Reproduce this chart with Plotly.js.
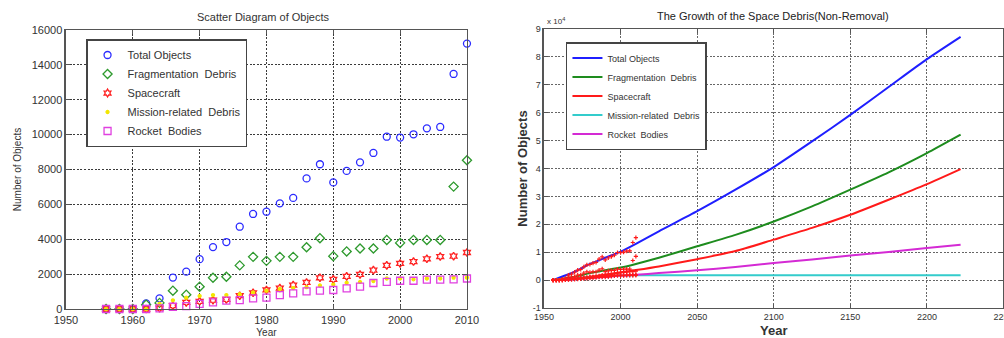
<!DOCTYPE html>
<html><head><meta charset="utf-8">
<script src="https://cdn.plot.ly/plotly-3.0.1.min.js"></script>
<style>html,body{margin:0;padding:0;background:#fff}#chart{width:1004px;height:338px}</style>
</head><body><div id="chart"></div>
<script>
// Historical observations (left chart, also red dots in right chart)
const years = [1956,1958,1960,1962,1964,1966,1968,1970,1972,1974,1976,1978,1980,1982,1984,1986,1988,1990,1992,1994,1996,1998,2000,2002,2004,2006,2008,2010];
const totalObjects = [0,0,0,320,610,1800,2140,2860,3550,3840,4720,5450,5580,6060,6370,7490,8300,7260,7920,8410,8950,9880,9830,10020,10360,10440,13480,15220];
const fragmentation = [0,0,0,250,350,1050,820,1280,1790,1850,2500,2990,2760,2990,2990,3540,4060,3030,3300,3470,3470,3960,3790,3960,3960,3960,7020,8530];
const spacecraft = [0,0,0,0,50,190,380,440,510,550,760,930,1090,1200,1370,1520,1790,1700,1870,1980,2230,2500,2610,2720,2880,3010,3030,3240];
const missionDebris = [0,0,0,0,300,500,650,750,800,800,850,950,1050,1150,1200,1250,1350,1400,1500,1550,1600,1750,1750,1700,1750,1750,1800,1800];
const rocketBodies = [0,0,0,0,40,130,170,290,380,480,510,610,650,800,900,1010,1050,1090,1180,1280,1490,1560,1620,1620,1680,1680,1700,1750];

// Projection (right chart)
const projYears = [1956,1970,1980,1990,2000,2010,2025,2050,2075,2100,2125,2150,2175,2200,2222];
const projTotal = [0,3000,5800,8000,10200,13000,17500,24700,32400,40500,49700,59200,69200,79200,87200];
const projFrag = [0,1200,2500,3500,4500,5800,8000,12100,16200,21000,26400,32400,38600,45500,52100];
const projSpacecraft = [0,600,1200,2000,2800,3600,4900,7500,10400,14500,18700,23400,28800,34400,39800];
const projMission = [0,600,1000,1300,1600,1700,1700,1700,1700,1700,1700,1700,1700,1700,1700];
const projRocket = [0,300,700,1100,1600,1900,2500,3500,4700,6100,7400,8800,10100,11500,12700];

const leftXTicks = [1950,1960,1970,1980,1990,2000,2010];
const leftYTicks = [0,2000,4000,6000,8000,10000,12000,14000,16000];
const rightXTicks = [1950,2000,2050,2100,2150,2200,2250];
const rightYTickVals = [-10000,0,10000,20000,30000,40000,50000,60000,70000,80000,90000];
const rightYTickText = ['-1','0','1','2','3','4','5','6','7','8','9'];

const names = ['Total Objects','Fragmentation  Debris','Spacecraft','Mission-related  Debris','Rocket  Bodies'];
const colors = ['#2b2bff','#2e9a2e','#ff2020','#f2e600','#e040e0'];
const lineColors = ['#1f1fff','#1e8c1e','#ff1a1a','#33cccc','#d42ad4'];
const symbols = ['circle-open','diamond-open','hexagram-open','circle','square-open'];
const sizes = [7,7,6,3,7];
const hist = [totalObjects,fragmentation,spacecraft,missionDebris,rocketBodies];
const proj = [projTotal,projFrag,projSpacecraft,projMission,projRocket];

const traces = [];
hist.forEach((vals,i)=>{
  traces.push({x:years,y:vals,type:'scatter',mode:'markers',name:names[i],
    xaxis:'x',yaxis:'y',legend:'legend',cliponaxis:false,
    marker:{symbol:symbols[i],size:sizes[i],color:colors[i],line:{width:1.3,color:colors[i]}}});
});
proj.forEach((vals,i)=>{
  traces.push({x:projYears,y:vals,type:'scatter',mode:'lines',name:names[i],
    xaxis:'x2',yaxis:'y2',legend:'legend2',line:{color:lineColors[i],width:2,shape:'spline',smoothing:0.6}});
});
hist.forEach((vals,i)=>{
  traces.push({x:years,y:vals,type:'scatter',mode:'markers',showlegend:false,
    xaxis:'x2',yaxis:'y2',marker:{symbol:'cross-thin-open',size:3,color:'#ff1a1a',line:{width:1.2,color:'#ff1a1a'}}});
});

const gridStyle = {showgrid:true,gridcolor:'#3a3a3a',gridwidth:1.2,griddash:'2px,1.6px',zeroline:false,
  showline:true,linecolor:'#555',linewidth:1.5,mirror:'ticks',ticks:'inside',ticklen:4,tickcolor:'#555',
  ticklabeloverflow:'allow'};
const F = 'Liberation Sans, Arial, sans-serif';

const layout = {
  width:1004,height:338,margin:{l:0,r:0,t:0,b:0},paper_bgcolor:'#fff',plot_bgcolor:'#fff',
  showlegend:true,
  xaxis:Object.assign({},gridStyle,{domain:[0.0657,0.4651],range:[1950,2010],tickvals:leftXTicks,
    tickfont:{family:F,size:11,color:'#333'},title:{text:'Year',font:{family:F,size:10,color:'#333'},standoff:4}}),
  yaxis:Object.assign({},gridStyle,{domain:[0.0858,0.9112],range:[0,16000],tickvals:leftYTicks,tickformat:'d',
    tickfont:{family:F,size:11,color:'#333'},title:{text:'Number of Objects',font:{family:F,size:10,color:'#333'},standoff:8}}),
  xaxis2:Object.assign({},gridStyle,{domain:[0.5418,0.9995],range:[1950,2250],tickvals:rightXTicks,anchor:'y2',
    gridcolor:'#666',gridwidth:1,
    tickfont:{family:'Liberation Sans Narrow, '+F,size:9,color:'#333'},title:{text:'<b>Year</b>',font:{family:F,size:13,color:'#333'},standoff:4}}),
  yaxis2:Object.assign({},gridStyle,{domain:[0.0888,0.9142],range:[-10000,90000],tickvals:rightYTickVals,ticktext:rightYTickText,anchor:'x2',
    gridcolor:'#666',gridwidth:1,
    tickfont:{family:'Liberation Sans Narrow, '+F,size:9,color:'#333'},title:{text:'<b>Number of Objects</b>',font:{family:F,size:13,color:'#333'},standoff:2}}),
  legend:{x:0.0857,y:0.8846,xanchor:'left',yanchor:'top',bgcolor:'#fff',bordercolor:'#444',borderwidth:1.5,
    font:{family:F,size:11,color:'#333'},itemwidth:30},
  legend2:{x:0.5637,y:0.8757,xanchor:'left',yanchor:'top',bgcolor:'#fff',bordercolor:'#444',borderwidth:1.5,
    font:{family:'Liberation Sans Narrow, '+F,size:9,color:'#333'},itemwidth:30},
  annotations:[
    {xref:'paper',yref:'paper',x:0.262,y:1-17/338,xanchor:'center',yanchor:'middle',showarrow:false,
     text:'Scatter Diagram of Objects',font:{family:F,size:11,color:'#333'}},
    {xref:'paper',yref:'paper',x:773/1004,y:1-16/338,xanchor:'center',yanchor:'middle',showarrow:false,
     text:'The Growth of the Space Debris(Non-Removal)',font:{family:F,size:11,color:'#222'}},
    {xref:'paper',yref:'paper',x:545/1004,y:1-21/338,xanchor:'left',yanchor:'middle',showarrow:false,
     text:'x 10<sup>4</sup>',font:{family:F,size:8,color:'#333'}}
  ]
};
Plotly.newPlot('chart',traces,layout,{displayModeBar:false,staticPlot:true});
</script></body></html>
